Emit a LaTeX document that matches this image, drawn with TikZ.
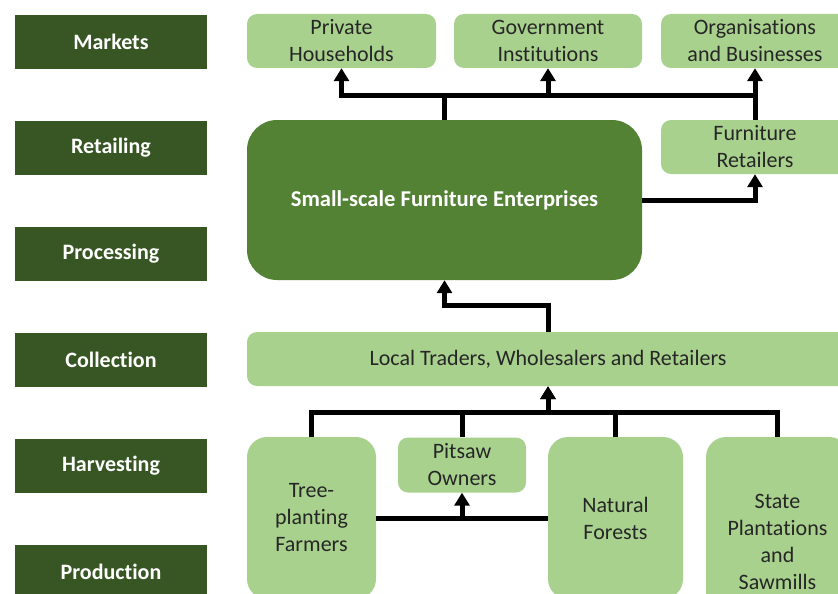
\documentclass[tikz,border=0pt]{standalone}
\usepackage{fontspec}
\setmainfont{Carlito}[Ligatures=NoCommon]
\usetikzlibrary{arrows.meta}
\definecolor{lightg}{HTML}{A9D18E}
\definecolor{midg}{HTML}{548235}
\definecolor{darkg}{HTML}{375623}
\definecolor{txt}{HTML}{262626}
\begin{document}
\begin{tikzpicture}[x=1pt,y=-1pt,
  stage/.style={fill=darkg, text=white, font=\fontsize{22}{27}\selectfont\bfseries,
    minimum width=192pt, minimum height=54pt, inner sep=0pt},
  box/.style={fill=lightg, text=txt, font=\fontsize{22}{27}\selectfont,
    rounded corners=10pt, inner sep=0pt, align=center},
  tallbox/.style={box, rounded corners=20pt},
  bigbox/.style={fill=midg, text=white, font=\fontsize{22.6}{27}\selectfont\bfseries,
    rounded corners=30pt, inner sep=0pt, align=center},
  link/.style={line width=5pt, draw=black},
  conn/.style={link, -{Triangle[length=13pt,width=15pt]}}]
\useasboundingbox[fill=white] (0,0) rectangle (838,594);
% stage labels
\node[stage] (markets) at (111,42) {Markets};
\node[stage] (retailing) at (111,148) {Retailing};
\node[stage] (processing) at (111,254) {Processing};
\node[stage] (collection) at (111,360) {Collection};
\node[stage] (harvesting) at (111,466) {Harvesting};
\node[stage] (production) at (111,572) {Production};
% market boxes
\node[box, minimum width=189pt, minimum height=54pt] (ph) at (341.5,41) {Private\\Households};
\node[box, minimum width=188pt, minimum height=54pt] (gi) at (548,41) {Government\\Institutions};
\node[box, minimum width=188pt, minimum height=54pt] (ob) at (755,41) {Organisations\\and Businesses};
\node[box, minimum width=188pt, minimum height=54pt] (fr) at (755,147) {Furniture\\Retailers};
\node[bigbox, minimum width=395pt, minimum height=160pt] (sfe) at (444.5,200) {Small-scale Furniture Enterprises};
\node[box, minimum width=602pt, minimum height=54pt] (lt) at (548,359) {Local Traders, Wholesalers and Retailers};
\node[tallbox, minimum width=129pt, minimum height=162pt] (tp) at (311.5,518) {Tree-\\planting\\Farmers};
\node[box, minimum width=128pt, minimum height=55pt] (po) at (462,465) {Pitsaw\\Owners};
\node[tallbox, minimum width=135pt, minimum height=162pt] (nf) at (615.5,518) {Natural\\Forests};
\node[tallbox, minimum width=143pt, minimum height=210pt] (sp) at (777.5,542) {State\\Plantations\\and\\Sawmills};
% connectors top
\coordinate (tbus) at (444.5,95);
\draw[conn] (sfe.north) |- (ph.south |- tbus) -- (ph.south);
\draw[conn] (sfe.north) |- (ob.south |- tbus) -- (ob.south);
\draw[conn] (gi.south |- tbus) -- (gi.south);
\draw[link] (fr.north) -- (ob.south |- tbus);
\draw[conn] (sfe.east) -| (fr.south);
\draw[conn] (lt.north) -- ++(0,-26) -| (sfe.south);
% connectors bottom
\coordinate (bbus) at (548,412);
\draw[conn] (tp.north) |- (bbus) -- (lt.south);
\draw[conn] (sp.north) |- (bbus) -- (lt.south);
\draw[link] (po.north) -- (po.north |- bbus);
\draw[link] (nf.north) -- (nf.north |- bbus);
\draw[link] (tp.east) -- (nf.west);
\draw[conn] (po.south |- tp.east) -- (po.south);
\end{tikzpicture}
\end{document}
